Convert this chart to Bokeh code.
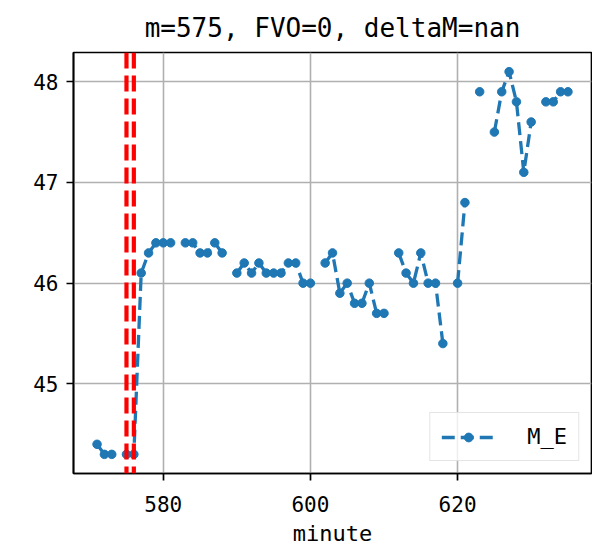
from bokeh.plotting import figure
from bokeh.models import Range1d, FixedTicker, Span
from bokeh.embed import file_html
from bokeh.resources import INLINE

nan = float("nan")

minutes = list(range(571, 636))
m_e = [44.4, 44.3, 44.3, nan, 44.3, 44.3, 46.1, 46.3, 46.4, 46.4,   # 571-580
       46.4, nan, 46.4, 46.4, 46.3, 46.3, 46.4, 46.3, nan, 46.1,    # 581-590
       46.2, 46.1, 46.2, 46.1, 46.1, 46.1, 46.2, 46.2, 46.0, 46.0,  # 591-600
       nan, 46.2, 46.3, 45.9, 46.0, 45.8, 45.8, 46.0, 45.7, 45.7,   # 601-610
       nan, 46.3, 46.1, 46.0, 46.3, 46.0, 46.0, 45.4, nan, 46.0,    # 611-620
       46.8, nan, 47.9, nan, 47.5, 47.9, 48.1, 47.8, 47.1, 47.6,    # 621-630
       nan, 47.8, 47.8, 47.9, 47.9]                                  # 631-635
event_lines = [575, 576]
x_ticks = [580, 600, 620]
y_ticks = [45, 46, 47, 48]
title_text = "m=575, FVO=0, deltaM=nan"

FONT = "DejaVu Sans Mono"
BLUE = "#1f77b4"

p = figure(width=592, height=551, output_backend="svg", toolbar_location=None,
           x_range=Range1d(567.8, 638.2), y_range=Range1d(44.11, 48.29),
           title=title_text, min_border_left=73, min_border_right=1,
           min_border_top=51, min_border_bottom=78)

p.title.align = "center"
p.title.text_font = FONT
p.title.text_font_size = "26px"
p.title.text_font_style = "normal"
p.title.text_color = "black"
p.title.standoff = 20

for ax in (p.xaxis[0], p.yaxis[0]):
    ax.major_label_text_font = FONT
    ax.major_label_text_font_size = "21px"
    ax.major_label_text_color = "black"
    ax.axis_line_color = "black"
    ax.axis_line_width = 1.7
    ax.major_tick_line_color = "black"
    ax.major_tick_line_width = 1.7
    ax.major_tick_out = 7
    ax.major_tick_in = 0
    ax.minor_tick_line_color = None
    ax.major_label_standoff = 8

p.xaxis.major_label_standoff = 15
p.xaxis.ticker = FixedTicker(ticks=x_ticks)
p.yaxis.ticker = FixedTicker(ticks=y_ticks)
p.xaxis.axis_label = "minute"
p.xaxis.axis_label_text_font = FONT
p.xaxis.axis_label_text_font_size = "22px"
p.xaxis.axis_label_text_font_style = "normal"
p.xaxis.axis_label_text_color = "black"
p.xaxis.axis_label_standoff = 6

p.grid.grid_line_color = "#b0b0b0"
p.grid.grid_line_width = 1.6
p.xgrid.ticker = FixedTicker(ticks=x_ticks)
p.ygrid.ticker = FixedTicker(ticks=y_ticks)

p.outline_line_color = "black"
p.outline_line_width = 1.7
p.outline_line_alpha = 1.0
p.background_fill_color = "white"
p.border_fill_color = "white"

p.line(minutes, m_e, color=BLUE, line_width=3.3, line_dash="13 6", legend_label="M_E")
p.scatter(minutes, m_e, color=BLUE, size=8.5, legend_label="M_E")

for xv in event_lines:
    p.add_layout(Span(location=xv, dimension="height", line_color="red",
                      line_width=4.2, line_dash="16 7"))

lg = p.legend[0]
lg.location = "bottom_right"
lg.label_text_font = FONT
lg.label_text_font_size = "22px"
lg.label_text_color = "black"
lg.glyph_width = 54
lg.glyph_height = 22
lg.label_standoff = 32
lg.padding = 11
lg.margin = 12
lg.spacing = 0
lg.border_line_color = "#cccccc"
lg.border_line_width = 1.7
lg.background_fill_alpha = 0.8

open("out.html", "w").write(file_html(p, INLINE))
